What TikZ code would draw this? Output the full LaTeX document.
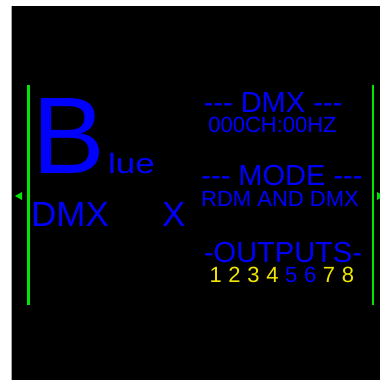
\documentclass[tikz,border=0pt]{standalone}
\usepackage{fontspec}
\setmainfont{Liberation Sans}[Ligatures=TeXOff]
\usepackage{xcolor}
\definecolor{dmxblue}{RGB}{0,0,255}
\definecolor{dmxgreen}{RGB}{0,230,0}
\definecolor{dmxyellow}{RGB}{240,230,0}
\newcommand{\fsz}[1]{\fontsize{#1}{#1}\selectfont}
\tikzset{
  lbl/.style={inner sep=0pt, text=dmxblue, anchor=base, text depth=0pt},
  head/.style={lbl, font=\fsz{29}, text height=21pt},
  val/.style={lbl, font=\fsz{22}, text height=16pt},
  rail/.style={dmxgreen, line width=2.5pt},
}

\begin{document}
\begin{tikzpicture}[x=1pt,y=-1pt]
                \useasboundingbox (0,0) rectangle (380,380);
                \clip (0,0) rectangle (380,380);
                \fill[white] (0,0) rectangle (380,380);
                \fill[black] (11,6) rectangle (380,380);
                \draw[gray!70, line width=1pt] (11,6) -- (11,380);
                % side rails and arrows
                \draw[rail] (28.5,85) -- (28.5,305);
                \draw[rail] (373,85) -- (373,305);
                \fill[dmxgreen] (15,196) -- (22,192) -- (22,200) -- cycle;
                \fill[dmxgreen] (384,196) -- (377,192) -- (377,200) -- cycle;
                % logo
                \node[lbl, anchor=base west, font=\fsz{109}] (bigB) at (32,173) {B};
                \node[lbl, anchor=base west, font=\fsz{28}] (lue) at (108,173) {\scalebox{1.25}[1]{lue}};
                \node[lbl, anchor=base west, font=\fsz{35}] (dmx) at (31,226) {DMX};
                \node[lbl, anchor=base west, font=\fsz{35}] (x) at (162,226) {X};
                % status column
                \node[head] (dmxhead) at (273,112) {--- DMX ---};
                \node[val] (dmxval) at (272.5,132) {000CH:00HZ};
                \node[head] (modehead) at (282,185) {--- MODE ---};
                \node[val] (modeval) at (280,206) {RDM AND DMX};
                \node[head] (outhead) at (283,262) {-OUTPUTS-};
                \foreach \n/\c in {1/dmxyellow,2/dmxyellow,3/dmxyellow,4/dmxyellow,5/dmxblue,6/dmxblue,7/dmxyellow,8/dmxyellow}
                \node[val, text=\c] (out\n) at ({215.7+18.9*(\n-1)},282) {\n};
            \end{tikzpicture}
\end{document}
